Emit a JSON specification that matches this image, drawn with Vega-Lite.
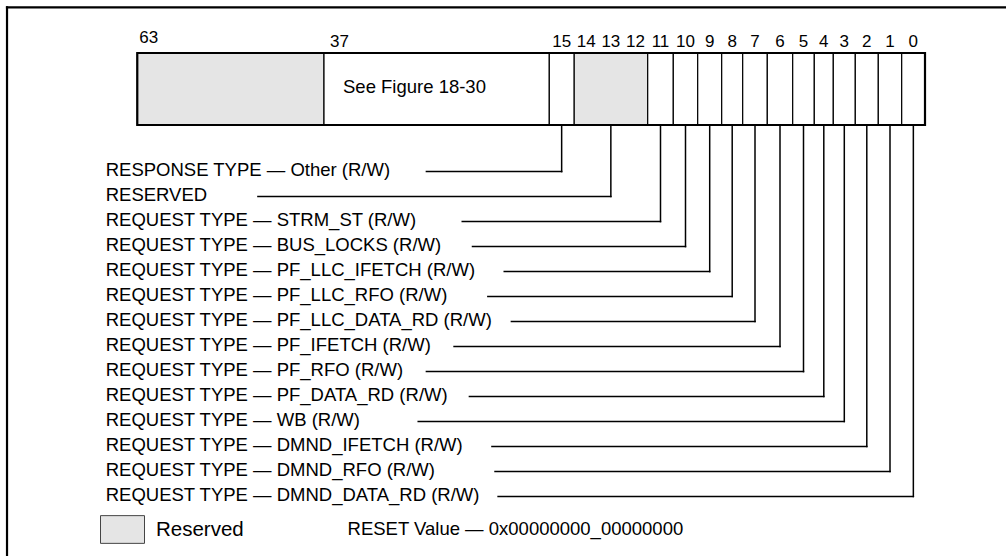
{
  "$schema": "https://vega.github.io/schema/vega-lite/v6.json",
  "width": 1006,
  "height": 556,
  "autosize": {"type": "none"},
  "padding": 0,
  "background": "white",
  "config": {
    "view": {"stroke": null},
    "text": {"font": "Liberation Sans", "color": "black"}
  },
  "datasets": {
    "frame": [
      {"edge": "top", "x1": 82.14, "x2": -3.6, "y1": -3.635, "y2": -3.635},
      {"edge": "left", "x1": 82.14, "x2": 82.14, "y1": -3.635, "y2": 16}
    ],
    "fields": [
      {"msb": 63, "lsb": 38, "kind": "Reserved", "text": "", "top": -3, "bottom": -2},
      {"msb": 37, "lsb": 16, "kind": "Defined", "text": "See Figure 18-30", "top": -3, "bottom": -2},
      {"msb": 15, "lsb": 15, "kind": "Defined", "text": "", "top": -3, "bottom": -2},
      {"msb": 14, "lsb": 12, "kind": "Reserved", "text": "", "top": -3, "bottom": -2},
      {"msb": 11, "lsb": 11, "kind": "Defined", "text": "", "top": -3, "bottom": -2},
      {"msb": 10, "lsb": 10, "kind": "Defined", "text": "", "top": -3, "bottom": -2},
      {"msb": 9, "lsb": 9, "kind": "Defined", "text": "", "top": -3, "bottom": -2},
      {"msb": 8, "lsb": 8, "kind": "Defined", "text": "", "top": -3, "bottom": -2},
      {"msb": 7, "lsb": 7, "kind": "Defined", "text": "", "top": -3, "bottom": -2},
      {"msb": 6, "lsb": 6, "kind": "Defined", "text": "", "top": -3, "bottom": -2},
      {"msb": 5, "lsb": 5, "kind": "Defined", "text": "", "top": -3, "bottom": -2},
      {"msb": 4, "lsb": 4, "kind": "Defined", "text": "", "top": -3, "bottom": -2},
      {"msb": 3, "lsb": 3, "kind": "Defined", "text": "", "top": -3, "bottom": -2},
      {"msb": 2, "lsb": 2, "kind": "Defined", "text": "", "top": -3, "bottom": -2},
      {"msb": 1, "lsb": 1, "kind": "Defined", "text": "", "top": -3, "bottom": -2},
      {"msb": 0, "lsb": 0, "kind": "Defined", "text": "", "top": -3, "bottom": -2}
    ],
    "register": [
      {"msb": 63, "lsb": 0, "top": -3, "bottom": -2}
    ],
    "bits": [
      {"bit": 63, "top": -3}, {"bit": 37, "top": -3}, {"bit": 15, "top": -3}, {"bit": 14, "top": -3},
      {"bit": 13, "top": -3}, {"bit": 12, "top": -3}, {"bit": 11, "top": -3}, {"bit": 10, "top": -3},
      {"bit": 9, "top": -3}, {"bit": 8, "top": -3}, {"bit": 7, "top": -3}, {"bit": 6, "top": -3},
      {"bit": 5, "top": -3}, {"bit": 4, "top": -3}, {"bit": 3, "top": -3}, {"bit": 2, "top": -3},
      {"bit": 1, "top": -3}, {"bit": 0, "top": -3}
    ],
    "leaders": [
      {"row": 0, "label": "RESPONSE TYPE — Other (R/W)", "msb": 15, "lsb": 15, "start": 28.0, "labelPos": 68.4, "bottom": -2},
      {"row": 1, "label": "RESERVED", "msb": 14, "lsb": 12, "start": 47.2, "labelPos": 68.4, "bottom": -2},
      {"row": 2, "label": "REQUEST TYPE — STRM_ST (R/W)", "msb": 11, "lsb": 11, "start": 24.5, "labelPos": 68.4, "bottom": -2},
      {"row": 3, "label": "REQUEST TYPE — BUS_LOCKS (R/W)", "msb": 10, "lsb": 10, "start": 23.5, "labelPos": 68.4, "bottom": -2},
      {"row": 4, "label": "REQUEST TYPE — PF_LLC_IFETCH (R/W)", "msb": 9, "lsb": 9, "start": 20.4, "labelPos": 68.4, "bottom": -2},
      {"row": 5, "label": "REQUEST TYPE — PF_LLC_RFO (R/W)", "msb": 8, "lsb": 8, "start": 22.0, "labelPos": 68.4, "bottom": -2},
      {"row": 6, "label": "REQUEST TYPE — PF_LLC_DATA_RD (R/W)", "msb": 7, "lsb": 7, "start": 19.7, "labelPos": 68.4, "bottom": -2},
      {"row": 7, "label": "REQUEST TYPE — PF_IFETCH (R/W)", "msb": 6, "lsb": 6, "start": 25.3, "labelPos": 68.4, "bottom": -2},
      {"row": 8, "label": "REQUEST TYPE — PF_RFO (R/W)", "msb": 5, "lsb": 5, "start": 28.0, "labelPos": 68.4, "bottom": -2},
      {"row": 9, "label": "REQUEST TYPE — PF_DATA_RD (R/W)", "msb": 4, "lsb": 4, "start": 23.8, "labelPos": 68.4, "bottom": -2},
      {"row": 10, "label": "REQUEST TYPE — WB (R/W)", "msb": 3, "lsb": 3, "start": 28.8, "labelPos": 68.4, "bottom": -2},
      {"row": 11, "label": "REQUEST TYPE — DMND_IFETCH (R/W)", "msb": 2, "lsb": 2, "start": 21.6, "labelPos": 68.4, "bottom": -2},
      {"row": 12, "label": "REQUEST TYPE — DMND_RFO (R/W)", "msb": 1, "lsb": 1, "start": 21.3, "labelPos": 68.4, "bottom": -2},
      {"row": 13, "label": "REQUEST TYPE — DMND_DATA_RD (R/W)", "msb": 0, "lsb": 0, "start": 21.0, "labelPos": 68.4, "bottom": -2}
    ],
    "notes": [
      {"text": "RESET Value — 0x00000000_00000000", "pos": 35.7, "row": 14.3}
    ]
  },
  "layer": [
    {
      "data": {"name": "frame"},
      "mark": {"type": "rule", "stroke": "black", "strokeWidth": 2.2, "strokeCap": "square"},
      "encoding": {
        "x": {"field": "x1", "type": "quantitative", "axis": null, "scale": {"domain": [70, 38, 16, 15, 12, 11, 10, 9, 8, 7, 6, 5, 4, 3, 2, 1, 0], "range": [94.2, 324, 549.3, 574, 647.7, 673.3, 697.7, 721.7, 742.7, 767.3, 792.7, 814.3, 833.3, 855.3, 878.3, 901.7, 925], "nice": false, "zero": false}},
        "x2": {"field": "x2"},
        "y": {"field": "y1", "type": "quantitative", "axis": null, "scale": {"domain": [-3, -2, 0, 13], "range": [53, 125, 171.6, 496.6], "nice": false, "zero": false}},
        "y2": {"field": "y2"}
      }
    },
    {
      "data": {"name": "fields"},
      "transform": [{"filter": "datum.kind === 'Reserved'"}, {"calculate": "datum.msb + 1", "as": "left"}],
      "mark": {"type": "rect", "stroke": "black", "strokeWidth": 1.2},
      "encoding": {
        "x": {"field": "left", "type": "quantitative", "axis": null, "scale": {"domain": [70, 38, 16, 15, 12, 11, 10, 9, 8, 7, 6, 5, 4, 3, 2, 1, 0], "range": [94.2, 324, 549.3, 574, 647.7, 673.3, 697.7, 721.7, 742.7, 767.3, 792.7, 814.3, 833.3, 855.3, 878.3, 901.7, 925], "nice": false, "zero": false}},
        "x2": {"field": "lsb"},
        "y": {"field": "top", "type": "quantitative", "axis": null, "scale": {"domain": [-3, -2, 0, 13], "range": [53, 125, 171.6, 496.6], "nice": false, "zero": false}},
        "y2": {"field": "bottom"},
        "fill": {"field": "kind", "type": "nominal", "scale": {"domain": ["Reserved"], "range": ["#e5e5e5"]},
          "legend": {"title": null, "orient": "none", "legendX": 100, "legendY": 507, "padding": 0,
            "symbolType": "M-1,-0.63H1V0.63H-1Z", "symbolSize": 1936, "symbolStrokeColor": "#444", "symbolStrokeWidth": 1,
            "labelFont": "Liberation Sans", "labelFontSize": 20.5, "labelColor": "black", "labelOffset": 11}}
      }
    },
    {
      "data": {"name": "fields"},
      "transform": [{"filter": "datum.kind !== 'Reserved'"}, {"calculate": "datum.msb + 1", "as": "left"}],
      "mark": {"type": "rect", "stroke": "black", "strokeWidth": 1.2, "fill": "white"},
      "encoding": {
        "x": {"field": "left", "type": "quantitative", "axis": null, "scale": {"domain": [70, 38, 16, 15, 12, 11, 10, 9, 8, 7, 6, 5, 4, 3, 2, 1, 0], "range": [94.2, 324, 549.3, 574, 647.7, 673.3, 697.7, 721.7, 742.7, 767.3, 792.7, 814.3, 833.3, 855.3, 878.3, 901.7, 925], "nice": false, "zero": false}},
        "x2": {"field": "lsb"},
        "y": {"field": "top", "type": "quantitative", "axis": null, "scale": {"domain": [-3, -2, 0, 13], "range": [53, 125, 171.6, 496.6], "nice": false, "zero": false}},
        "y2": {"field": "bottom"}
      }
    },
    {
      "data": {"name": "register"},
      "transform": [{"calculate": "datum.msb + 1", "as": "left"}],
      "mark": {"type": "rect", "stroke": "black", "strokeWidth": 2.2, "fillOpacity": 0},
      "encoding": {
        "x": {"field": "left", "type": "quantitative", "axis": null, "scale": {"domain": [70, 38, 16, 15, 12, 11, 10, 9, 8, 7, 6, 5, 4, 3, 2, 1, 0], "range": [94.2, 324, 549.3, 574, 647.7, 673.3, 697.7, 721.7, 742.7, 767.3, 792.7, 814.3, 833.3, 855.3, 878.3, 901.7, 925], "nice": false, "zero": false}},
        "x2": {"field": "lsb"},
        "y": {"field": "top", "type": "quantitative", "axis": null, "scale": {"domain": [-3, -2, 0, 13], "range": [53, 125, 171.6, 496.6], "nice": false, "zero": false}},
        "y2": {"field": "bottom"}
      }
    },
    {
      "data": {"name": "fields"},
      "transform": [{"filter": "datum.text !== ''"}, {"calculate": "datum.msb + 1", "as": "left"}, {"calculate": "(datum.top + datum.bottom) / 2", "as": "mid"}],
      "mark": {"type": "text", "align": "left", "baseline": "middle", "dx": 19, "dy": -2, "fontSize": 18.5},
      "encoding": {
        "x": {"field": "left", "type": "quantitative", "axis": null, "scale": {"domain": [70, 38, 16, 15, 12, 11, 10, 9, 8, 7, 6, 5, 4, 3, 2, 1, 0], "range": [94.2, 324, 549.3, 574, 647.7, 673.3, 697.7, 721.7, 742.7, 767.3, 792.7, 814.3, 833.3, 855.3, 878.3, 901.7, 925], "nice": false, "zero": false}},
        "y": {"field": "mid", "type": "quantitative", "axis": null, "scale": {"domain": [-3, -2, 0, 13], "range": [53, 125, 171.6, 496.6], "nice": false, "zero": false}},
        "text": {"field": "text", "type": "nominal"}
      }
    },
    {
      "data": {"name": "bits"},
      "transform": [{"filter": "datum.bit === 63"}, {"calculate": "datum.bit + 1", "as": "left"}],
      "mark": {"type": "text", "align": "left", "baseline": "alphabetic", "dx": 2, "dy": -10, "fontSize": 17},
      "encoding": {
        "x": {"field": "left", "type": "quantitative", "axis": null, "scale": {"domain": [70, 38, 16, 15, 12, 11, 10, 9, 8, 7, 6, 5, 4, 3, 2, 1, 0], "range": [94.2, 324, 549.3, 574, 647.7, 673.3, 697.7, 721.7, 742.7, 767.3, 792.7, 814.3, 833.3, 855.3, 878.3, 901.7, 925], "nice": false, "zero": false}},
        "y": {"field": "top", "type": "quantitative", "axis": null, "scale": {"domain": [-3, -2, 0, 13], "range": [53, 125, 171.6, 496.6], "nice": false, "zero": false}},
        "text": {"field": "bit", "type": "nominal"}
      }
    },
    {
      "data": {"name": "bits"},
      "transform": [{"filter": "datum.bit === 37"}, {"calculate": "datum.bit + 1", "as": "left"}],
      "mark": {"type": "text", "align": "left", "baseline": "alphabetic", "dx": 6, "dy": -6, "fontSize": 17},
      "encoding": {
        "x": {"field": "left", "type": "quantitative", "axis": null, "scale": {"domain": [70, 38, 16, 15, 12, 11, 10, 9, 8, 7, 6, 5, 4, 3, 2, 1, 0], "range": [94.2, 324, 549.3, 574, 647.7, 673.3, 697.7, 721.7, 742.7, 767.3, 792.7, 814.3, 833.3, 855.3, 878.3, 901.7, 925], "nice": false, "zero": false}},
        "y": {"field": "top", "type": "quantitative", "axis": null, "scale": {"domain": [-3, -2, 0, 13], "range": [53, 125, 171.6, 496.6], "nice": false, "zero": false}},
        "text": {"field": "bit", "type": "nominal"}
      }
    },
    {
      "data": {"name": "bits"},
      "transform": [{"filter": "datum.bit <= 15"}, {"calculate": "datum.bit + 0.5", "as": "mid"}],
      "mark": {"type": "text", "align": "center", "baseline": "alphabetic", "dy": -6.5, "fontSize": 17},
      "encoding": {
        "x": {"field": "mid", "type": "quantitative", "axis": null, "scale": {"domain": [70, 38, 16, 15, 12, 11, 10, 9, 8, 7, 6, 5, 4, 3, 2, 1, 0], "range": [94.2, 324, 549.3, 574, 647.7, 673.3, 697.7, 721.7, 742.7, 767.3, 792.7, 814.3, 833.3, 855.3, 878.3, 901.7, 925], "nice": false, "zero": false}},
        "y": {"field": "top", "type": "quantitative", "axis": null, "scale": {"domain": [-3, -2, 0, 13], "range": [53, 125, 171.6, 496.6], "nice": false, "zero": false}},
        "text": {"field": "bit", "type": "nominal"}
      }
    },
    {
      "data": {"name": "leaders"},
      "transform": [{"calculate": "(datum.msb + datum.lsb + 1) / 2", "as": "mid"}],
      "mark": {"type": "rule", "stroke": "black", "strokeWidth": 1.5, "strokeCap": "square"},
      "encoding": {
        "x": {"field": "start", "type": "quantitative", "axis": null, "scale": {"domain": [70, 38, 16, 15, 12, 11, 10, 9, 8, 7, 6, 5, 4, 3, 2, 1, 0], "range": [94.2, 324, 549.3, 574, 647.7, 673.3, 697.7, 721.7, 742.7, 767.3, 792.7, 814.3, 833.3, 855.3, 878.3, 901.7, 925], "nice": false, "zero": false}},
        "x2": {"field": "mid"},
        "y": {"field": "row", "type": "quantitative", "axis": null, "scale": {"domain": [-3, -2, 0, 13], "range": [53, 125, 171.6, 496.6], "nice": false, "zero": false}}
      }
    },
    {
      "data": {"name": "leaders"},
      "transform": [{"calculate": "(datum.msb + datum.lsb + 1) / 2", "as": "mid"}],
      "mark": {"type": "rule", "stroke": "black", "strokeWidth": 1.5, "strokeCap": "square"},
      "encoding": {
        "x": {"field": "mid", "type": "quantitative", "axis": null, "scale": {"domain": [70, 38, 16, 15, 12, 11, 10, 9, 8, 7, 6, 5, 4, 3, 2, 1, 0], "range": [94.2, 324, 549.3, 574, 647.7, 673.3, 697.7, 721.7, 742.7, 767.3, 792.7, 814.3, 833.3, 855.3, 878.3, 901.7, 925], "nice": false, "zero": false}},
        "y": {"field": "bottom", "type": "quantitative", "axis": null, "scale": {"domain": [-3, -2, 0, 13], "range": [53, 125, 171.6, 496.6], "nice": false, "zero": false}},
        "y2": {"field": "row"}
      }
    },
    {
      "data": {"name": "leaders"},
      "mark": {"type": "text", "align": "left", "baseline": "middle", "dy": -2, "fontSize": 18.5},
      "encoding": {
        "x": {"field": "labelPos", "type": "quantitative", "axis": null, "scale": {"domain": [70, 38, 16, 15, 12, 11, 10, 9, 8, 7, 6, 5, 4, 3, 2, 1, 0], "range": [94.2, 324, 549.3, 574, 647.7, 673.3, 697.7, 721.7, 742.7, 767.3, 792.7, 814.3, 833.3, 855.3, 878.3, 901.7, 925], "nice": false, "zero": false}},
        "y": {"field": "row", "type": "quantitative", "axis": null, "scale": {"domain": [-3, -2, 0, 13], "range": [53, 125, 171.6, 496.6], "nice": false, "zero": false}},
        "text": {"field": "label", "type": "nominal"}
      }
    },
    {
      "data": {"name": "notes"},
      "mark": {"type": "text", "align": "left", "baseline": "middle", "fontSize": 18.5},
      "encoding": {
        "x": {"field": "pos", "type": "quantitative", "axis": null, "scale": {"domain": [70, 38, 16, 15, 12, 11, 10, 9, 8, 7, 6, 5, 4, 3, 2, 1, 0], "range": [94.2, 324, 549.3, 574, 647.7, 673.3, 697.7, 721.7, 742.7, 767.3, 792.7, 814.3, 833.3, 855.3, 878.3, 901.7, 925], "nice": false, "zero": false}},
        "y": {"field": "row", "type": "quantitative", "axis": null, "scale": {"domain": [-3, -2, 0, 13], "range": [53, 125, 171.6, 496.6], "nice": false, "zero": false}},
        "text": {"field": "text", "type": "nominal"}
      }
    }
  ]
}
